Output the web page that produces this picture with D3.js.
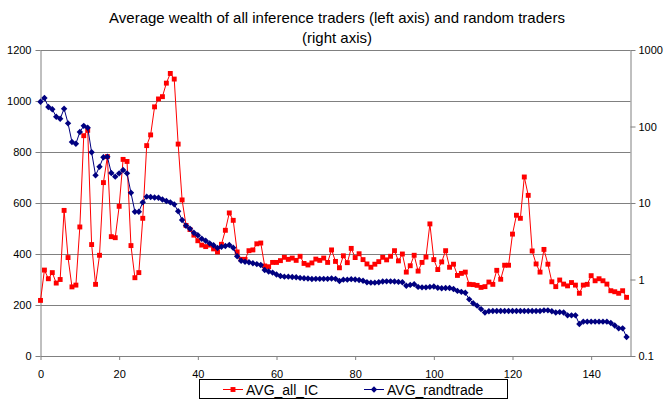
<!DOCTYPE html>
<html>
<head>
<meta charset="utf-8">
<script src="https://cdn.jsdelivr.net/npm/d3@7"></script>
<style>
  body { margin: 0; background: #fff; }
  svg { display: block; }
  text { font-family: Arial, "Liberation Sans", sans-serif; fill: #000; }
</style>
</head>
<body>
<svg id="chart" width="664" height="402"></svg>
<script>
// Average wealth per time step, 0..149
const avgAllIC = [
  218, 337, 303, 327, 286, 300, 571, 386, 271, 278,
  506, 864, 885, 437, 281, 395, 680, 782, 468, 464,
  587, 771, 763, 433, 307, 327, 540, 825, 867, 977,
  1008, 1017, 1070, 1108, 1086, 831, 612, 512, 496, 474,
  452, 435, 429, 435, 420, 408, 438, 493, 561, 532,
  408, 379, 379, 413, 416, 440, 443, 353, 350, 367,
  367, 374, 387, 379, 384, 375, 391, 363, 357, 365,
  380, 375, 384, 367, 416, 371, 346, 393, 366, 422,
  386, 401, 378, 361, 348, 360, 370, 387, 377, 391,
  413, 373, 400, 329, 354, 395, 333, 367, 388, 518,
  378, 339, 369, 413, 348, 360, 316, 324, 329, 281,
  280, 277, 269, 272, 290, 281, 336, 301, 356, 356,
  478, 552, 540, 702, 630, 412, 361, 329, 418, 360,
  291, 272, 298, 282, 275, 288, 278, 246, 278, 281,
  315, 295, 303, 295, 282, 256, 252, 246, 256, 230
];

const avgRandtrade = [
  211, 236, 180, 168, 134, 126, 171, 110, 62.7, 59.6,
  84.7, 102, 96.5, 46, 23, 29.8, 39.6, 40.3, 24.7, 22.1,
  24.4, 27, 24.4, 13.6, 7.7, 7.7, 10.2, 12.1, 12.0, 11.8,
  11.7, 11.1, 10.6, 10.2, 9.6, 7.8, 6.0, 5.05, 4.6, 4.09,
  3.78, 3.41, 3.21, 2.97, 2.80, 2.58, 2.68, 2.74, 2.82, 2.60,
  2.01, 1.76, 1.71, 1.68, 1.63, 1.59, 1.55, 1.33, 1.27, 1.23,
  1.16, 1.11, 1.09, 1.09, 1.08, 1.07, 1.05, 1.04, 1.03, 1.015,
  1.02, 1.02, 1.02, 1.02, 1.03, 1.02, 0.955, 0.995, 0.995, 1.01,
  1.00, 0.985, 0.965, 0.92, 0.91, 0.91, 0.92, 0.94, 0.946, 0.946,
  0.94, 0.93, 0.92, 0.83, 0.85, 0.87, 0.80, 0.79, 0.79, 0.80,
  0.81, 0.78, 0.77, 0.775, 0.775, 0.75, 0.71, 0.69, 0.67, 0.55,
  0.49, 0.455, 0.41, 0.37, 0.384, 0.388, 0.388, 0.388, 0.388, 0.388,
  0.388, 0.388, 0.388, 0.388, 0.388, 0.388, 0.388, 0.388, 0.395, 0.395,
  0.384, 0.37, 0.375, 0.37, 0.34, 0.34, 0.34, 0.262, 0.281, 0.281,
  0.281, 0.281, 0.281, 0.281, 0.281, 0.27, 0.25, 0.23, 0.23, 0.177
];

const leftTicks = [0, 200, 400, 600, 800, 1000, 1200];
const rightTicks = [0.1, 1, 10, 100, 1000];
const xTicks = [0, 20, 40, 60, 80, 100, 120, 140];
const titleLines = [
  "Average wealth of all inference traders (left axis) and random traders",
  "(right axis)"
];
const seriesNames = ["AVG_all_IC", "AVG_randtrade"];

const svg = d3.select("#chart");
const plot = { left: 40.5, right: 630.5, top: 50, bottom: 356 };

const x = d3.scaleLinear().domain([0, 150]).range([plot.left, plot.right]);
const yL = d3.scaleLinear().domain([0, 1200]).range([plot.bottom, plot.top]);
const yR = d3.scaleLog().domain([0.1, 1000]).range([plot.bottom, plot.top]);

// Title
svg.append("g").selectAll("text").data(titleLines).join("text")
  .attr("x", 337).attr("y", (d, i) => 23 + i * 20)
  .attr("text-anchor", "middle").style("font-size", "15px")
  .text(d => d);

// Horizontal gridlines on the left scale
svg.append("g").selectAll("line").data(leftTicks.filter(d => d > 0)).join("line")
  .attr("x1", plot.left).attr("x2", plot.right)
  .attr("y1", d => Math.round(yL(d)) + 0.5).attr("y2", d => Math.round(yL(d)) + 0.5)
  .attr("stroke", "#808080").attr("stroke-width", 1);

// Axes
const axisStyle = g => {
  g.selectAll("path.domain").attr("stroke", "#808080");
  g.selectAll(".tick line").attr("stroke", "#808080");
  g.selectAll("text").style("font-size", "11px").attr("font-family", null);
};

svg.append("g").attr("transform", `translate(${plot.left},0)`)
  .call(d3.axisLeft(yL).tickValues(leftTicks).tickFormat(d3.format("d"))
    .tickSize(5).tickSizeOuter(0).tickPadding(4))
  .call(axisStyle);

svg.append("g").attr("transform", `translate(${plot.right},0)`)
  .call(d3.axisRight(yR).tickValues(rightTicks).tickFormat(d3.format("~g"))
    .tickSize(5).tickSizeOuter(0).tickPadding(3))
  .call(axisStyle);

svg.append("g").attr("transform", `translate(0,${plot.bottom})`)
  .call(d3.axisBottom(x).tickValues(xTicks).tickSize(4).tickSizeOuter(0).tickPadding(10))
  .call(axisStyle);

// Series
const red = "#ff0000", navy = "#000080";
const steps = avgAllIC.map((_, i) => i);

const lineL = d3.line().x(i => x(i)).y(i => yL(avgAllIC[i]));
const lineR = d3.line().x(i => x(i)).y(i => yR(avgRandtrade[i]));

const square = d3.symbol().type(d3.symbolSquare).size(24);
// Diamond as a square turned 45 degrees
const diamond = () => "M0,-3.2L3.2,0L0,3.2L-3.2,0Z";

svg.append("path").datum(steps).attr("d", lineL)
  .attr("fill", "none").attr("stroke", red).attr("stroke-width", 1);
svg.append("g").selectAll("path").data(steps).join("path")
  .attr("d", square).attr("fill", red)
  .attr("transform", i => `translate(${x(i)},${yL(avgAllIC[i])})`);

svg.append("path").datum(steps).attr("d", lineR)
  .attr("fill", "none").attr("stroke", navy).attr("stroke-width", 1);
svg.append("g").selectAll("path").data(steps).join("path")
  .attr("d", diamond).attr("fill", navy)
  .attr("transform", i => `translate(${x(i)},${yR(avgRandtrade[i])})`);

// Legend
const legend = svg.append("g");
legend.append("rect").attr("x", 199.5).attr("y", 379.5).attr("width", 308).attr("height", 19)
  .attr("fill", "#fff").attr("stroke", "#000").attr("stroke-width", 1);
const legendItems = [
  { name: seriesNames[0], color: red, sym: square, x: 223 },
  { name: seriesNames[1], color: navy, sym: diamond, x: 364 }
];
const li = legend.selectAll("g").data(legendItems).join("g")
  .attr("transform", d => `translate(${d.x},389.5)`);
li.append("line").attr("x1", 0).attr("x2", 20).attr("stroke", d => d.color).attr("stroke-width", 1);
li.append("path").attr("d", d => d.sym()).attr("fill", d => d.color).attr("transform", "translate(10,0)");
li.append("text").attr("x", 23).attr("y", 5).style("font-size", "14px").text(d => d.name);
</script>
</body>
</html>
